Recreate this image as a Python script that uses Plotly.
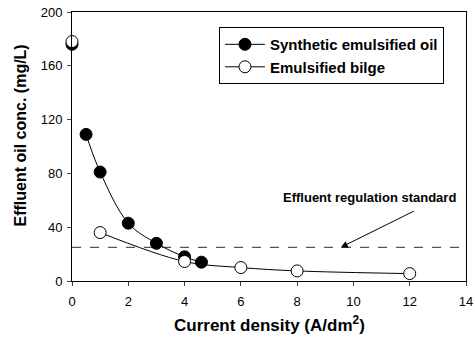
import plotly.graph_objects as go

# Data
syn_x = [0.5, 1, 2, 3, 4, 4.6]
syn_y = [109, 81, 43, 28, 18, 14]
syn_x0 = [0]
syn_y0 = [176]
bilge_x = [1, 4, 6, 8, 12]
bilge_y = [36, 14.5, 10, 7.5, 5.5]
bilge_x0 = [0]
bilge_y0 = [178]
standard = 25
x_ticks = [0, 2, 4, 6, 8, 10, 12, 14]
y_ticks = [0, 40, 80, 120, 160, 200]

FONT = "Liberation Sans, Arial"

fig = go.Figure()
fig.add_trace(go.Scatter(x=[0, 14], y=[standard, standard], mode="lines",
                         line=dict(color="#555", width=1.2, dash="dash"),
                         showlegend=False, hoverinfo="skip"))
fig.add_trace(go.Scatter(x=syn_x0, y=syn_y0, mode="markers",
                         marker=dict(size=12, color="black", line=dict(color="black", width=1)),
                         showlegend=False, cliponaxis=False))
fig.add_trace(go.Scatter(x=bilge_x0, y=bilge_y0, mode="markers",
                         marker=dict(size=12, color="white", line=dict(color="black", width=1)),
                         showlegend=False, cliponaxis=False))
fig.add_trace(go.Scatter(x=syn_x, y=syn_y, mode="lines+markers", name="<b>Synthetic emulsified oil</b>",
                         line=dict(color="black", width=1, shape="spline"),
                         marker=dict(size=12, color="black", line=dict(color="black", width=1)),
                         cliponaxis=False))
fig.add_trace(go.Scatter(x=bilge_x, y=bilge_y, mode="lines+markers", name="<b>Emulsified bilge</b>",
                         line=dict(color="black", width=1, shape="spline"),
                         marker=dict(size=12, color="white", line=dict(color="black", width=1)),
                         cliponaxis=False))

fig.add_annotation(x=9.55, y=standard, ax=12.2, ay=52.5, axref="x", ayref="y",
                   showarrow=True, arrowhead=2, arrowsize=1.4, arrowwidth=1, arrowcolor="black",
                   text="")
fig.add_annotation(x=10.57, y=62, text="<b>Effluent regulation standard</b>", showarrow=False,
                   font=dict(size=13, color="black", family=FONT))
# axis titles
fig.add_annotation(xref="paper", yref="paper", x=0.5, y=-0.16, showarrow=False,
                   xanchor="center", yanchor="middle",
                   text="<b>Current density (A/dm<sup>2</sup>)</b>",
                   font=dict(size=17, color="black", family=FONT))
fig.add_annotation(xref="paper", yref="paper", x=-0.1307, y=0.539, showarrow=False,
                   xanchor="center", yanchor="middle",
                   textangle=-90, text="<b>Effluent oil conc. (mg/L)</b>",
                   font=dict(size=16, color="black", family=FONT))

fig.update_layout(
    width=475, height=337,
    margin=dict(l=72, r=9, t=12, b=56),
    paper_bgcolor="white", plot_bgcolor="white",
    font=dict(family=FONT, color="black"),
    legend=dict(x=0.373, y=0.944, xanchor="left", yanchor="top",
                bordercolor="black", borderwidth=1, bgcolor="white",
                font=dict(size=15, family=FONT),
                itemwidth=40, tracegroupgap=0),
    xaxis=dict(range=[0, 14], tickvals=x_ticks, ticks="outside", ticklen=4,
               showline=True, linecolor="black", linewidth=1, mirror=True,
               showgrid=False, zeroline=False, tickfont=dict(size=13), automargin=False,
               ticklabelstandoff=4),
    yaxis=dict(range=[0, 200], tickvals=y_ticks, ticks="outside", ticklen=4,
               showline=True, linecolor="black", linewidth=1, mirror=True,
               showgrid=False, zeroline=False, tickfont=dict(size=13), automargin=False,
               ticklabelstandoff=2),
)
fig.write_html("out.html", config={"displayModeBar": False},
               post_script="document.body.style.margin='0';")
